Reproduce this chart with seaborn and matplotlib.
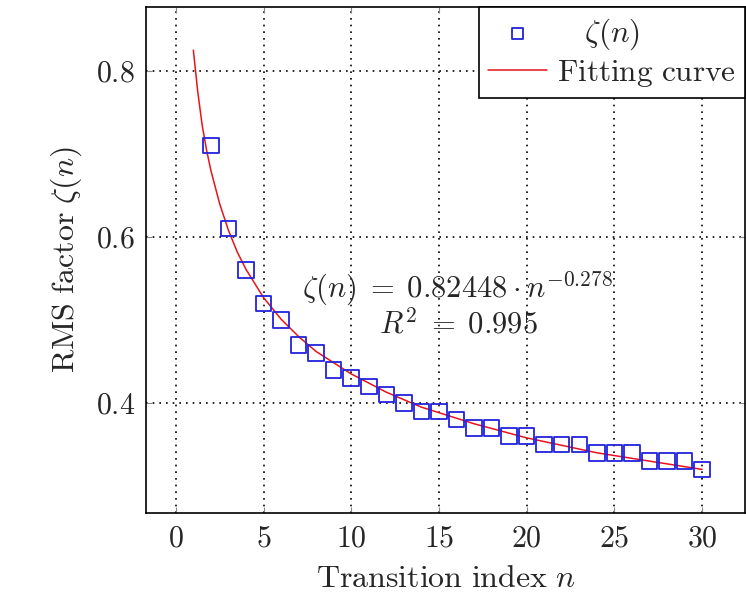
import matplotlib
matplotlib.use("Agg")
import matplotlib.pyplot as plt
import numpy as np
import pandas as pd
import seaborn as sns


# Measured RMS factor for each transition index.
n_index = list(range(2, 31))
zeta_vals = [0.71, 0.61, 0.56, 0.52, 0.50, 0.47, 0.46, 0.44, 0.43, 0.42,
             0.41, 0.40, 0.39, 0.39, 0.38, 0.37, 0.37, 0.36, 0.36, 0.35,
             0.35, 0.35, 0.34, 0.34, 0.34, 0.33, 0.33, 0.33, 0.32]

# Fitting curve.
fit_n = [1, 1.25, 1.5, 1.75, 2, 2.5, 3, 3.5, 4, 5, 6, 7, 8, 10, 12, 14, 17,
         20, 24, 27, 30]
fit_vals = [0.825, 0.775, 0.735, 0.705, 0.680, 0.640, 0.608, 0.582, 0.561,
            0.527, 0.501, 0.480, 0.462, 0.435, 0.413, 0.395, 0.375, 0.358,
            0.340, 0.330, 0.320]

sns.set_style("ticks")
plt.rcParams["mathtext.fontset"] = "cm"
plt.rcParams["font.family"] = ["serif"]
plt.rcParams["font.serif"] = ["DejaVu Serif"]

fig = plt.figure(figsize=(7.46, 5.94), dpi=100)
ax = fig.add_axes([0.1957, 0.1364, 0.803, 0.8518])

df_pts = pd.DataFrame({"n": n_index, "zeta": zeta_vals})
df_fit = pd.DataFrame({"n": fit_n, "zeta": fit_vals})

sns.lineplot(data=df_fit, x="n", y="zeta", color="#e8131b", linewidth=1.1,
             ax=ax, label="Fitting curve", zorder=3)
sns.scatterplot(data=df_pts, x="n", y="zeta", marker="s", s=125,
                facecolors="none", edgecolors="#2222dd", linewidth=1.3,
                ax=ax, label=r"$\zeta(n)$", zorder=4)

ax.set_xlim(-1.7, 32.45)
ax.set_ylim(0.2675, 0.877)
ax.set_xticks([0, 5, 10, 15, 20, 25, 30])
ax.set_yticks([0.4, 0.6, 0.8])
ax.set_xticklabels([f"${v}$" for v in [0, 5, 10, 15, 20, 25, 30]])
ax.set_yticklabels(["$0.4$", "$0.6$", "$0.8$"])
ax.tick_params(labelsize=21.5, direction="in", length=4, color="#888888",
               top=True, right=True, pad=8)
ax.grid(True, linestyle=(0, (1, 3)), color="black", linewidth=1.2)

for sp in ax.spines.values():
    sp.set_linewidth(1.2)
    sp.set_color("black")

ax.set_xlabel(r"$\mathrm{Transition\ index}\ n$", fontsize=23, labelpad=8)
ax.set_ylabel(r"$\mathrm{RMS\ factor}\ \zeta(n)$", fontsize=23, labelpad=8)

ax.text(16.05, 0.537, r"$\zeta(n)\;=\;0.82448 \cdot n^{-0.278}$",
        fontsize=22, ha="center", va="center")
ax.text(16.1, 0.494, r"$R^2\;=\;0.995$", fontsize=22, ha="center",
        va="center")

# Legend: marker first, then curve.
handles, labels = ax.get_legend_handles_labels()
leg = ax.legend(handles[::-1], labels[::-1], loc="upper right", fontsize=22.5,
                frameon=True, fancybox=False, framealpha=1, borderpad=0.3,
                handlelength=1.9, labelspacing=0.15, borderaxespad=0.0,
                markerscale=0.7, handletextpad=0.3)
leg.get_frame().set_edgecolor("black")
leg.get_frame().set_linewidth(1.2)
for t in leg.get_texts():
    t.set_text(r"$\mathrm{Fitting\ curve}$" if "Fitting" in t.get_text()
               else r"$\quad\zeta(n)$")

fig.savefig("out.png", dpi=100)
